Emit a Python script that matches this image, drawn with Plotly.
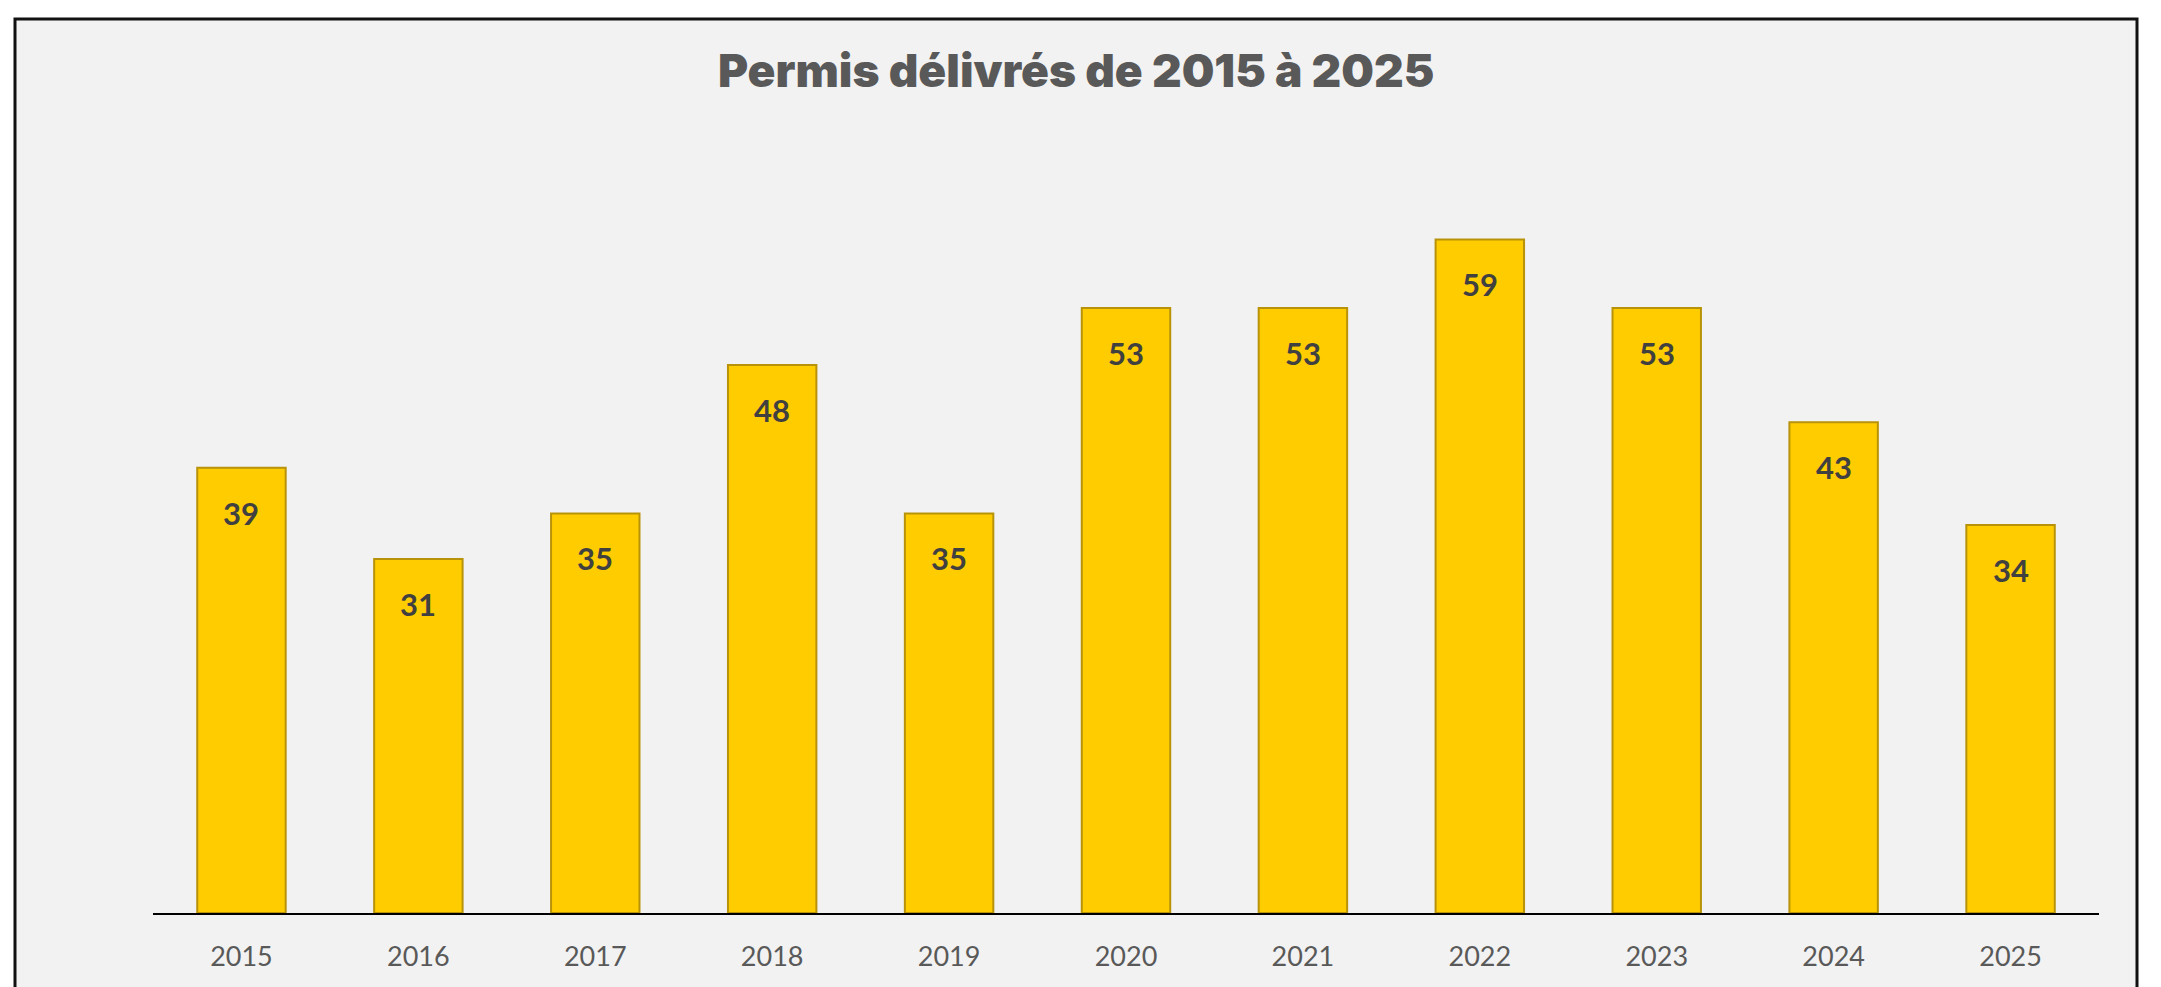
import plotly.graph_objects as go

# Permits issued per year
years = ["2015", "2016", "2017", "2018", "2019", "2020", "2021", "2022", "2023", "2024", "2025"]
permits = [39, 31, 35, 48, 35, 53, 53, 59, 53, 43, 34]

W, H = 2161, 987
ml, mr, mt, mb = 153, 62, 171, 74
plot_w = W - ml - mr
plot_h = H - mt - mb

fig = go.Figure()
fig.add_trace(go.Bar(
    x=years,
    y=permits,
    marker=dict(color="#FFCC00", line=dict(color="#B8930A", width=2)),
    hoverinfo="x+y",
))

# value labels placed just inside the top of each bar (category index on x)
for i, v in enumerate(permits):
    fig.add_annotation(
        x=i, y=v, xref="x", yref="y",
        text=f"<b>{v}</b>", showarrow=False,
        yanchor="middle", yshift=-45,
        font=dict(family="Lato, 'Open Sans', sans-serif", size=31, color="#404040"),
    )

# outer frame of the chart area
def px_x(p):
    return (p - ml) / plot_w

def px_y(p):
    return (H - mb - p) / plot_h

fig.add_shape(
    type="rect", xref="paper", yref="paper",
    x0=px_x(15), x1=px_x(2137), y0=px_y(H + 10), y1=px_y(19),
    fillcolor="#F2F2F2", line=dict(color="#111111", width=3), layer="below",
)

fig.update_layout(
    width=W, height=H,
    margin=dict(l=ml, r=mr, t=mt, b=mb),
    paper_bgcolor="#FFFFFF",
    plot_bgcolor="#F2F2F2",
    bargap=0.5,
    showlegend=False,
    title=dict(
        text="Permis délivrés de 2015 à 2025",
        x=0.498, xref="container", xanchor="center",
        y=1 - 71 / H, yref="container", yanchor="middle",
        font=dict(family="Inter, 'DejaVu Sans', sans-serif", size=46, color="#595959", weight=900),
    ),
    xaxis=dict(
        type="category",
        showline=True, linecolor="#000000", linewidth=2,
        showgrid=False, ticks="",
        tickfont=dict(family="Lato, 'Open Sans', sans-serif", size=27, color="#595959"),
        ticklabelstandoff=19,
    ),
    yaxis=dict(
        range=[0, 65], visible=False, showgrid=False, zeroline=False,
    ),
)

fig.write_html("out.html")
